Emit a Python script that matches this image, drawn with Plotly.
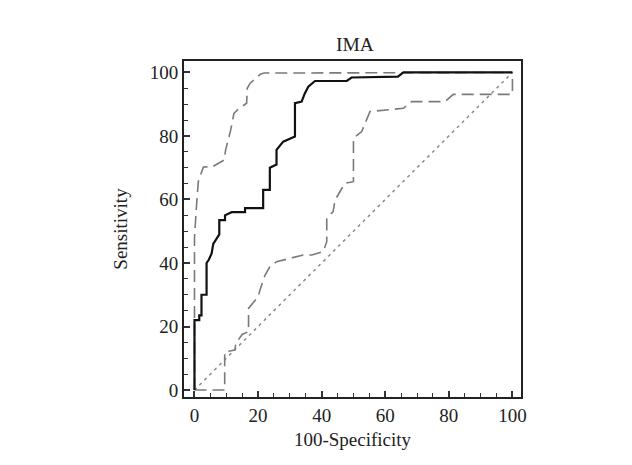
import plotly.graph_objects as go

# ROC curve (solid)
roc_x = [0, 0, 1.5, 1.5, 2.2, 2.2, 3.8, 3.8, 4.5, 5.4, 5.9, 7, 7.8, 7.8, 9.6, 9.6, 11.7, 15.9, 15.9,
         21.6, 21.6, 23.7, 23.7, 25.8, 25.8, 27.9, 31.6, 31.6, 33.7, 34.7, 35.8, 37.9, 47.9, 49.4,
         64, 65.7, 100]
roc_y = [0, 22, 22, 23.5, 23.5, 30, 30, 40, 41, 43, 46, 48, 49, 53.5, 53.5, 55, 56, 56, 57.3,
         57.3, 63, 63, 70, 71, 75.6, 78.2, 79.8, 90.3, 90.8, 93.4, 95.5, 97.3, 97.3, 98.4,
         98.7, 100, 100]

# Upper confidence bound (dashed)
upper_x = [0, 0, 0.7, 1.2, 1.9, 2.8, 5.6, 7.2, 9.3, 9.8, 11.4, 12.4, 14, 16.4, 16.6, 17.5, 19.2,
           20.8, 22, 100]
upper_y = [0, 48, 59, 65.6, 67.7, 70.2, 70.3, 71.2, 72.4, 75.6, 81.9, 87.1, 88.7, 90.3, 95,
           96.6, 98.2, 99.5, 99.8, 100]

# Lower confidence bound (dashed)
lower_x = [0, 9.5, 9.5, 12.7, 13, 15, 17, 17, 20, 20.6, 22.2, 23.7, 25.8, 30, 34.2, 36.9, 40.5,
           41.6, 41.6, 43.6, 44.2, 45.8, 47.3, 50, 50, 52.6, 55.2, 65.7, 68.3, 78.8, 81.4, 100, 100]
lower_y = [0, 0, 12, 12.6, 14.7, 17.5, 18.4, 25.7, 29.4, 31.5, 36.2, 38.8, 40.4, 41.5, 42.5,
           42.5, 43.6, 46.7, 54, 56.2, 59.8, 62.5, 65.1, 65.6, 79.3, 81.4, 87.7, 88.7, 90.8,
           90.8, 93.1, 93.1, 100]

# Reference diagonal
diag_x = [0, 100]
diag_y = [0, 100]

tick_vals = [0, 20, 40, 60, 80, 100]
tick_text = ["0", "20", "40", "60", "80", "100"]

FONT = "Liberation Serif, Times New Roman, serif"

fig = go.Figure()
fig.add_trace(go.Scatter(x=diag_x, y=diag_y, mode="lines",
                         line=dict(color="#8a8a8a", width=1.5, dash="3px,4px"), showlegend=False))
fig.add_trace(go.Scatter(x=lower_x, y=lower_y, mode="lines",
                         line=dict(color="#7a7a7a", width=1.6, dash="12px,6px"), showlegend=False))
fig.add_trace(go.Scatter(x=upper_x, y=upper_y, mode="lines",
                         line=dict(color="#7a7a7a", width=1.6, dash="12px,6px"), showlegend=False))
fig.add_trace(go.Scatter(x=roc_x, y=roc_y, mode="lines",
                         line=dict(color="#111111", width=2.2), showlegend=False))

axis_common = dict(
    tickvals=tick_vals, ticktext=tick_text,
    ticks="inside", ticklen=6, tickwidth=1.5, tickcolor="#333333",
    minor=dict(dtick=5, ticks="inside", ticklen=4, tickwidth=1.2, tickcolor="#333333"),
    showline=True, linewidth=2, linecolor="#222222", mirror=True,
    showgrid=False, zeroline=False,
    tickfont=dict(family=FONT, size=19, color="#222222"),
)

fig.update_layout(
    width=632, height=465,
    margin=dict(l=176, r=119, t=53, b=76, pad=0),
    paper_bgcolor="white", plot_bgcolor="white",
    title=dict(text="IMA", font=dict(family=FONT, size=19.5, color="#222222"),
               x=347 / 632, xanchor="center", xref="container",
               y=1 - 36 / 465, yanchor="middle", yref="container"),
    xaxis=dict(range=[-3.3, 102.7],
               title=dict(text="100-Specificity", font=dict(family=FONT, size=19, color="#222222"),
                          standoff=8),
               **axis_common),
    yaxis=dict(range=[-2.2, 103.6],
               title=dict(text="Sensitivity", font=dict(family=FONT, size=19, color="#222222"),
                          standoff=17),
               **axis_common),
)

fig.write_html("out.html")
